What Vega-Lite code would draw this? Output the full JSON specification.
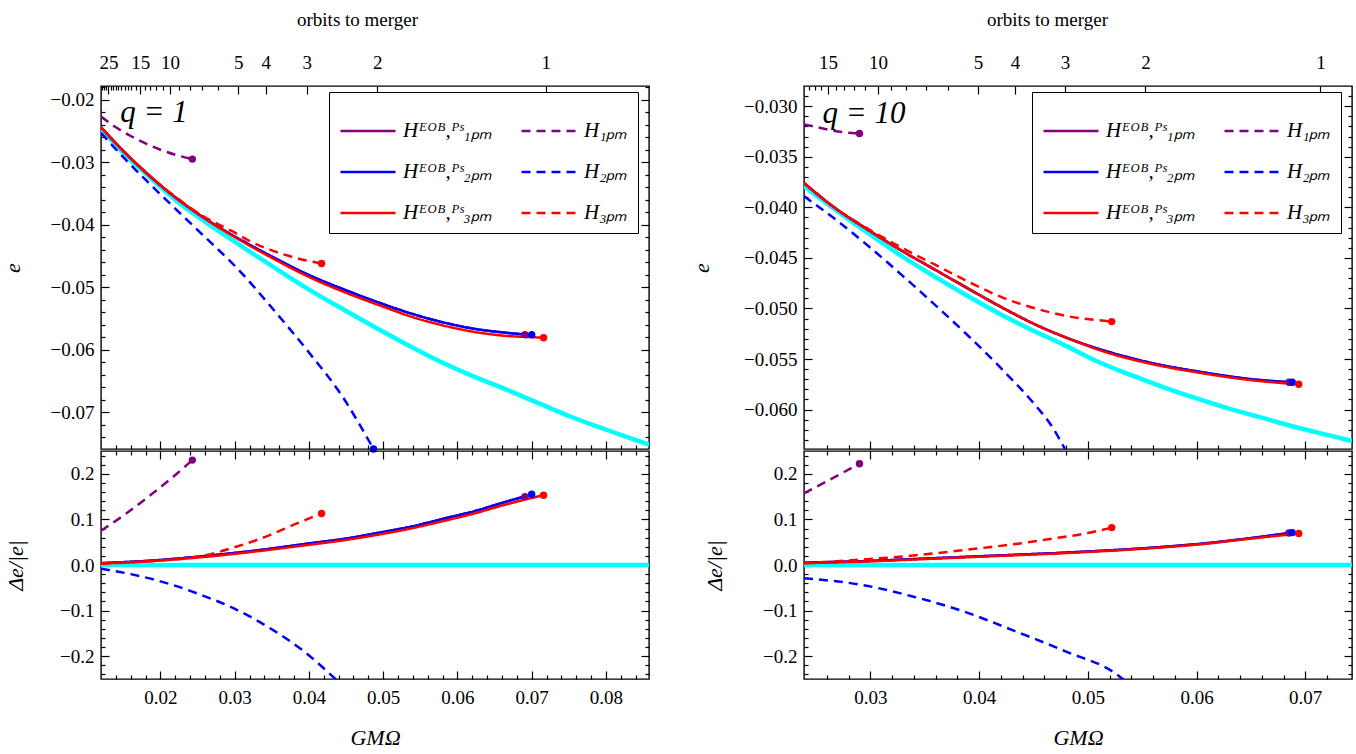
{
"$schema": "https://vega.github.io/schema/vega-lite/v6.json",
"background": "white",
"padding": {"left": 0, "top": 9, "right": 2, "bottom": 2},
"bounds": "flush",
"spacing": 703,
"config": {
  "font": "Liberation Serif",
  "view": {"stroke": "black", "strokeWidth": 1.4},
  "axis": {"domain": false, "grid": false, "labelFont": "Liberation Serif", "labelFontSize": 19, "labelColor": "black", "tickColor": "black", "tickWidth": 1.2, "titleFont": "Liberation Serif", "titleFontWeight": "normal", "titleFontSize": 22, "titleColor": "black", "labelOverlap": false, "labelFlush": false},
  "legend": {"orient": "none", "legendX": 228, "legendY": 6, "columns": 2, "direction": "horizontal", "symbolType": "stroke", "symbolSize": 3025, "symbolStrokeWidth": 2.5, "labelFont": "Liberation Serif", "labelFontSize": 21, "labelFontStyle": "italic", "labelColor": "black", "strokeColor": "black", "fillColor": "white", "padding": 10, "rowPadding": 2, "columnPadding": 24, "labelOffset": 6},
  "line": {"interpolate": "monotone"},
  "text": {"font": "Liberation Serif"}
},
"datasets": {
  "L_e": [
    {"s":"NR","x":0.012,"y":-0.0246},{"s":"NR","x":0.015,"y":-0.0285},{"s":"NR","x":0.018,"y":-0.0318},{"s":"NR","x":0.0222,"y":-0.0362},{"s":"NR","x":0.026,"y":-0.0395},{"s":"NR","x":0.0296,"y":-0.0424},{"s":"NR","x":0.035,"y":-0.0466},{"s":"NR","x":0.0399,"y":-0.0503},{"s":"NR","x":0.045,"y":-0.0538},{"s":"NR","x":0.0495,"y":-0.0568},{"s":"NR","x":0.054,"y":-0.0597},{"s":"NR","x":0.058,"y":-0.0621},{"s":"NR","x":0.062,"y":-0.0642},{"s":"NR","x":0.0666,"y":-0.0664},{"s":"NR","x":0.071,"y":-0.0686},{"s":"NR","x":0.0752,"y":-0.0707},{"s":"NR","x":0.08,"y":-0.0728},{"s":"NR","x":0.0858,"y":-0.0752},
    {"s":"E1","x":0.012,"y":-0.0244},{"s":"E1","x":0.015,"y":-0.0282},{"s":"E1","x":0.018,"y":-0.0316},{"s":"E1","x":0.0222,"y":-0.0358},{"s":"E1","x":0.026,"y":-0.039},{"s":"E1","x":0.0296,"y":-0.0416},{"s":"E1","x":0.035,"y":-0.0451},{"s":"E1","x":0.0399,"y":-0.048},{"s":"E1","x":0.045,"y":-0.0505},{"s":"E1","x":0.0495,"y":-0.0525},{"s":"E1","x":0.054,"y":-0.0543},{"s":"E1","x":0.058,"y":-0.0556},{"s":"E1","x":0.062,"y":-0.0566},{"s":"E1","x":0.0666,"y":-0.0573},{"s":"E1","x":0.0691,"y":-0.0576},
    {"s":"E2","x":0.012,"y":-0.0244},{"s":"E2","x":0.015,"y":-0.0282},{"s":"E2","x":0.018,"y":-0.0316},{"s":"E2","x":0.0222,"y":-0.0358},{"s":"E2","x":0.026,"y":-0.039},{"s":"E2","x":0.0296,"y":-0.0416},{"s":"E2","x":0.035,"y":-0.0451},{"s":"E2","x":0.0399,"y":-0.048},{"s":"E2","x":0.045,"y":-0.0505},{"s":"E2","x":0.0495,"y":-0.0525},{"s":"E2","x":0.054,"y":-0.0543},{"s":"E2","x":0.058,"y":-0.0556},{"s":"E2","x":0.062,"y":-0.0566},{"s":"E2","x":0.0666,"y":-0.0573},{"s":"E2","x":0.07,"y":-0.0576},
    {"s":"E3","x":0.012,"y":-0.0244},{"s":"E3","x":0.015,"y":-0.0282},{"s":"E3","x":0.018,"y":-0.0316},{"s":"E3","x":0.0222,"y":-0.0358},{"s":"E3","x":0.026,"y":-0.039},{"s":"E3","x":0.0296,"y":-0.0417},{"s":"E3","x":0.035,"y":-0.0453},{"s":"E3","x":0.0399,"y":-0.0483},{"s":"E3","x":0.045,"y":-0.0509},{"s":"E3","x":0.0495,"y":-0.0529},{"s":"E3","x":0.054,"y":-0.0548},{"s":"E3","x":0.058,"y":-0.0561},{"s":"E3","x":0.062,"y":-0.0571},{"s":"E3","x":0.0666,"y":-0.0578},{"s":"E3","x":0.07,"y":-0.058},{"s":"E3","x":0.0716,"y":-0.0581},
    {"s":"P1","x":0.012,"y":-0.0227},{"s":"P1","x":0.014,"y":-0.0244},{"s":"P1","x":0.016,"y":-0.0258},{"s":"P1","x":0.018,"y":-0.027},{"s":"P1","x":0.02,"y":-0.028},{"s":"P1","x":0.022,"y":-0.0288},{"s":"P1","x":0.0243,"y":-0.0295},
    {"s":"P2","x":0.012,"y":-0.0253},{"s":"P2","x":0.015,"y":-0.0292},{"s":"P2","x":0.018,"y":-0.0328},{"s":"P2","x":0.0211,"y":-0.0364},{"s":"P2","x":0.0262,"y":-0.0422},{"s":"P2","x":0.0302,"y":-0.0468},{"s":"P2","x":0.0348,"y":-0.053},{"s":"P2","x":0.0399,"y":-0.0603},{"s":"P2","x":0.0444,"y":-0.0673},{"s":"P2","x":0.0487,"y":-0.0759},
    {"s":"P3","x":0.012,"y":-0.0244},{"s":"P3","x":0.015,"y":-0.0282},{"s":"P3","x":0.018,"y":-0.0316},{"s":"P3","x":0.0222,"y":-0.0357},{"s":"P3","x":0.026,"y":-0.0388},{"s":"P3","x":0.0296,"y":-0.041},{"s":"P3","x":0.0325,"y":-0.0429},{"s":"P3","x":0.035,"y":-0.0441},{"s":"P3","x":0.037,"y":-0.0449},{"s":"P3","x":0.0395,"y":-0.0457},{"s":"P3","x":0.0417,"y":-0.0462}
  ],
  "L_d": [
    {"s":"NR","x":0.012,"y":0},{"s":"NR","x":0.0858,"y":0},
    {"s":"E1","x":0.012,"y":0.004},{"s":"E1","x":0.02,"y":0.011},{"s":"E1","x":0.0268,"y":0.021},{"s":"E1","x":0.033,"y":0.032},{"s":"E1","x":0.0399,"y":0.047},{"s":"E1","x":0.045,"y":0.058},{"s":"E1","x":0.0495,"y":0.071},{"s":"E1","x":0.054,"y":0.085},{"s":"E1","x":0.058,"y":0.101},{"s":"E1","x":0.0625,"y":0.119},{"s":"E1","x":0.0666,"y":0.139},{"s":"E1","x":0.0691,"y":0.15},
    {"s":"E2","x":0.012,"y":0.004},{"s":"E2","x":0.02,"y":0.011},{"s":"E2","x":0.0268,"y":0.021},{"s":"E2","x":0.033,"y":0.032},{"s":"E2","x":0.0399,"y":0.047},{"s":"E2","x":0.045,"y":0.058},{"s":"E2","x":0.0495,"y":0.071},{"s":"E2","x":0.054,"y":0.085},{"s":"E2","x":0.058,"y":0.101},{"s":"E2","x":0.0625,"y":0.119},{"s":"E2","x":0.0666,"y":0.139},{"s":"E2","x":0.07,"y":0.155},
    {"s":"E3","x":0.012,"y":0.003},{"s":"E3","x":0.02,"y":0.01},{"s":"E3","x":0.0268,"y":0.019},{"s":"E3","x":0.033,"y":0.03},{"s":"E3","x":0.0399,"y":0.044},{"s":"E3","x":0.045,"y":0.055},{"s":"E3","x":0.0495,"y":0.067},{"s":"E3","x":0.054,"y":0.081},{"s":"E3","x":0.058,"y":0.096},{"s":"E3","x":0.0625,"y":0.114},{"s":"E3","x":0.0666,"y":0.133},{"s":"E3","x":0.07,"y":0.147},{"s":"E3","x":0.0716,"y":0.153},
    {"s":"P1","x":0.012,"y":0.075},{"s":"P1","x":0.0154,"y":0.113},{"s":"P1","x":0.0188,"y":0.155},{"s":"P1","x":0.0222,"y":0.2},{"s":"P1","x":0.0243,"y":0.23},
    {"s":"P2","x":0.012,"y":-0.008},{"s":"P2","x":0.016,"y":-0.02},{"s":"P2","x":0.0211,"y":-0.041},{"s":"P2","x":0.0254,"y":-0.065},{"s":"P2","x":0.0296,"y":-0.093},{"s":"P2","x":0.0353,"y":-0.144},{"s":"P2","x":0.0393,"y":-0.189},{"s":"P2","x":0.0433,"y":-0.246},{"s":"P2","x":0.0437,"y":-0.252},
    {"s":"P3","x":0.012,"y":0.003},{"s":"P3","x":0.02,"y":0.01},{"s":"P3","x":0.0257,"y":0.02},{"s":"P3","x":0.0302,"y":0.04},{"s":"P3","x":0.0348,"y":0.066},{"s":"P3","x":0.0382,"y":0.09},{"s":"P3","x":0.0417,"y":0.113}
  ],
  "R_e": [
    {"s":"NR","x":0.0239,"y":-0.0379},{"s":"NR","x":0.027,"y":-0.0404},{"s":"NR","x":0.03,"y":-0.0427},{"s":"NR","x":0.033,"y":-0.0449},{"s":"NR","x":0.036,"y":-0.0469},{"s":"NR","x":0.039,"y":-0.0488},{"s":"NR","x":0.042,"y":-0.0506},{"s":"NR","x":0.045,"y":-0.0522},{"s":"NR","x":0.048,"y":-0.0537},{"s":"NR","x":0.051,"y":-0.0553},{"s":"NR","x":0.054,"y":-0.0566},{"s":"NR","x":0.057,"y":-0.0578},{"s":"NR","x":0.06,"y":-0.0589},{"s":"NR","x":0.063,"y":-0.0599},{"s":"NR","x":0.066,"y":-0.0608},{"s":"NR","x":0.069,"y":-0.0617},{"s":"NR","x":0.072,"y":-0.0625},{"s":"NR","x":0.0743,"y":-0.0631},
    {"s":"E1","x":0.0239,"y":-0.0376},{"s":"E1","x":0.0268,"y":-0.0401},{"s":"E1","x":0.0299,"y":-0.0423},{"s":"E1","x":0.0329,"y":-0.0443},{"s":"E1","x":0.036,"y":-0.0462},{"s":"E1","x":0.0391,"y":-0.0481},{"s":"E1","x":0.0421,"y":-0.0499},{"s":"E1","x":0.0452,"y":-0.0516},{"s":"E1","x":0.0483,"y":-0.053},{"s":"E1","x":0.0513,"y":-0.0541},{"s":"E1","x":0.0559,"y":-0.0554},{"s":"E1","x":0.0605,"y":-0.0563},{"s":"E1","x":0.0651,"y":-0.057},{"s":"E1","x":0.0685,"y":-0.0573},
    {"s":"E2","x":0.0239,"y":-0.0376},{"s":"E2","x":0.0268,"y":-0.0401},{"s":"E2","x":0.0299,"y":-0.0423},{"s":"E2","x":0.0329,"y":-0.0443},{"s":"E2","x":0.036,"y":-0.0462},{"s":"E2","x":0.0391,"y":-0.0481},{"s":"E2","x":0.0421,"y":-0.0499},{"s":"E2","x":0.0452,"y":-0.0516},{"s":"E2","x":0.0483,"y":-0.053},{"s":"E2","x":0.0513,"y":-0.0541},{"s":"E2","x":0.0559,"y":-0.0554},{"s":"E2","x":0.0605,"y":-0.0563},{"s":"E2","x":0.0651,"y":-0.057},{"s":"E2","x":0.0688,"y":-0.0573},
    {"s":"E3","x":0.0239,"y":-0.0376},{"s":"E3","x":0.0268,"y":-0.0401},{"s":"E3","x":0.0299,"y":-0.0423},{"s":"E3","x":0.0329,"y":-0.0443},{"s":"E3","x":0.036,"y":-0.0462},{"s":"E3","x":0.0391,"y":-0.0481},{"s":"E3","x":0.0421,"y":-0.0499},{"s":"E3","x":0.0452,"y":-0.0516},{"s":"E3","x":0.0483,"y":-0.053},{"s":"E3","x":0.0513,"y":-0.0542},{"s":"E3","x":0.0559,"y":-0.0555},{"s":"E3","x":0.0605,"y":-0.0564},{"s":"E3","x":0.0651,"y":-0.0571},{"s":"E3","x":0.0694,"y":-0.0575},
    {"s":"P1","x":0.0239,"y":-0.0318},{"s":"P1","x":0.0252,"y":-0.0321},{"s":"P1","x":0.0265,"y":-0.0324},{"s":"P1","x":0.0278,"y":-0.0326},{"s":"P1","x":0.029,"y":-0.0327},
    {"s":"P2","x":0.0239,"y":-0.0389},{"s":"P2","x":0.0268,"y":-0.0412},{"s":"P2","x":0.0299,"y":-0.0439},{"s":"P2","x":0.0329,"y":-0.0467},{"s":"P2","x":0.036,"y":-0.0497},{"s":"P2","x":0.0391,"y":-0.0528},{"s":"P2","x":0.0421,"y":-0.056},{"s":"P2","x":0.0452,"y":-0.0596},{"s":"P2","x":0.0466,"y":-0.0615},{"s":"P2","x":0.0479,"y":-0.0639},
    {"s":"P3","x":0.0239,"y":-0.0376},{"s":"P3","x":0.0268,"y":-0.0401},{"s":"P3","x":0.0299,"y":-0.0422},{"s":"P3","x":0.0329,"y":-0.044},{"s":"P3","x":0.036,"y":-0.0457},{"s":"P3","x":0.0391,"y":-0.0474},{"s":"P3","x":0.0421,"y":-0.0489},{"s":"P3","x":0.0452,"y":-0.05},{"s":"P3","x":0.0483,"y":-0.0508},{"s":"P3","x":0.0513,"y":-0.0512},{"s":"P3","x":0.0522,"y":-0.0513}
  ],
  "R_d": [
    {"s":"NR","x":0.0239,"y":0},{"s":"NR","x":0.0743,"y":0},
    {"s":"E1","x":0.0239,"y":0.005},{"s":"E1","x":0.03,"y":0.009},{"s":"E1","x":0.035,"y":0.014},{"s":"E1","x":0.0409,"y":0.02},{"s":"E1","x":0.0487,"y":0.028},{"s":"E1","x":0.0565,"y":0.039},{"s":"E1","x":0.061,"y":0.048},{"s":"E1","x":0.0643,"y":0.057},{"s":"E1","x":0.0685,"y":0.07},
    {"s":"E2","x":0.0239,"y":0.005},{"s":"E2","x":0.03,"y":0.009},{"s":"E2","x":0.035,"y":0.014},{"s":"E2","x":0.0409,"y":0.02},{"s":"E2","x":0.0487,"y":0.028},{"s":"E2","x":0.0565,"y":0.039},{"s":"E2","x":0.061,"y":0.048},{"s":"E2","x":0.0643,"y":0.057},{"s":"E2","x":0.0688,"y":0.071},
    {"s":"E3","x":0.0239,"y":0.004},{"s":"E3","x":0.03,"y":0.008},{"s":"E3","x":0.035,"y":0.013},{"s":"E3","x":0.0409,"y":0.019},{"s":"E3","x":0.0487,"y":0.027},{"s":"E3","x":0.0565,"y":0.038},{"s":"E3","x":0.061,"y":0.047},{"s":"E3","x":0.0643,"y":0.056},{"s":"E3","x":0.0694,"y":0.069},
    {"s":"P1","x":0.0239,"y":0.157},{"s":"P1","x":0.0265,"y":0.19},{"s":"P1","x":0.029,"y":0.222},
    {"s":"P2","x":0.0239,"y":-0.029},{"s":"P2","x":0.0293,"y":-0.044},{"s":"P2","x":0.0339,"y":-0.069},{"s":"P2","x":0.0386,"y":-0.102},{"s":"P2","x":0.0433,"y":-0.145},{"s":"P2","x":0.0479,"y":-0.189},{"s":"P2","x":0.053,"y":-0.246},{"s":"P2","x":0.0533,"y":-0.252},
    {"s":"P3","x":0.0239,"y":0.004},{"s":"P3","x":0.028,"y":0.01},{"s":"P3","x":0.0331,"y":0.019},{"s":"P3","x":0.038,"y":0.031},{"s":"P3","x":0.0409,"y":0.039},{"s":"P3","x":0.044,"y":0.048},{"s":"P3","x":0.0468,"y":0.058},{"s":"P3","x":0.05,"y":0.07},{"s":"P3","x":0.0522,"y":0.082}
  ]
},
"hconcat": [
 {
  "vconcat": [
   {
    "width": 548, "height": 363,
    "resolve": {"axis": {"x": "independent", "y": "independent"}},
    "layer": [
     {
      "data": {"name": "L_e"},
      "transform": [{"filter": "datum.s === 'NR'"}],
      "mark": {"type": "line", "color": "#00ffff", "strokeWidth": 4.5, "clip": true},
      "encoding": {
       "x": {"field": "x", "type": "quantitative", "scale": {"domain": [0.012, 0.0858], "nice": false, "zero": false}, "axis": {"orient": "bottom", "values": [0.02,0.03,0.04,0.05,0.06,0.07,0.08], "labels": false, "tickSize": -8, "title": null}},
       "y": {"field": "y", "type": "quantitative", "scale": {"domain": [-0.0759, -0.0178], "nice": false, "zero": false}, "axis": {"orient": "left", "values": [-0.07,-0.06,-0.05,-0.04,-0.03,-0.02], "format": ".2f", "tickSize": -8, "labelPadding": 15, "title": "e", "titleFontStyle": "italic", "titlePadding": 26}}
      }
     },
     {
      "data": {"name": "L_e"},
      "transform": [{"filter": "datum.s !== 'NR'"}],
      "mark": {"type": "line", "strokeWidth": 2.5, "clip": true},
      "encoding": {
       "x": {"field": "x", "type": "quantitative", "scale": {"domain": [0.012, 0.0858], "nice": false, "zero": false}, "axis": {"orient": "bottom", "values": [0.014,0.016,0.018,0.022,0.024,0.026,0.028,0.032,0.034,0.036,0.038,0.042,0.044,0.046,0.048,0.052,0.054,0.056,0.058,0.062,0.064,0.066,0.068,0.072,0.074,0.076,0.078,0.082,0.084], "labels": false, "tickSize": -4, "title": null}},
       "y": {"field": "y", "type": "quantitative", "scale": {"domain": [-0.0759, -0.0178], "nice": false, "zero": false}, "axis": {"orient": "left", "values": [-0.074,-0.072,-0.068,-0.066,-0.064,-0.062,-0.058,-0.056,-0.054,-0.052,-0.048,-0.046,-0.044,-0.042,-0.038,-0.036,-0.034,-0.032,-0.028,-0.026,-0.024,-0.022,-0.018], "labels": false, "tickSize": -4, "title": null}},
       "color": {"field": "s", "type": "nominal", "scale": {"domain": ["E1","P1","E2","P2","E3","P3"], "range": ["#800080","#800080","#0000ff","#0000ff","#ff0000","#ff0000"]}, "legend": {"title": null, "labelExpr": "datum.label=='E1'?'Hᴱᴼᴮ,ᴾˢ₁ₚₘ':datum.label=='P1'?'H₁ₚₘ':datum.label=='E2'?'Hᴱᴼᴮ,ᴾˢ₂ₚₘ':datum.label=='P2'?'H₂ₚₘ':datum.label=='E3'?'Hᴱᴼᴮ,ᴾˢ₃ₚₘ':'H₃ₚₘ'"}},
       "strokeDash": {"field": "s", "type": "nominal", "scale": {"domain": ["E1","P1","E2","P2","E3","P3"], "range": [[1,0],[9,6],[1,0],[9,6],[1,0],[9,6]]}, "legend": {"title": null, "labelExpr": "datum.label=='E1'?'Hᴱᴼᴮ,ᴾˢ₁ₚₘ':datum.label=='P1'?'H₁ₚₘ':datum.label=='E2'?'Hᴱᴼᴮ,ᴾˢ₂ₚₘ':datum.label=='P2'?'H₂ₚₘ':datum.label=='E3'?'Hᴱᴼᴮ,ᴾˢ₃ₚₘ':'H₃ₚₘ'"}}
      }
     },
     {
      "data": {"name": "L_e"},
      "transform": [{"joinaggregate": [{"op": "max", "field": "x", "as": "mx"}], "groupby": ["s"]}, {"filter": "datum.s !== 'NR' && datum.x === datum.mx"}],
      "mark": {"type": "circle", "size": 55, "opacity": 1},
      "encoding": {
       "x": {"field": "x", "type": "quantitative", "scale": {"domain": [0.012, 0.0858], "nice": false, "zero": false}, "axis": {"orient": "top", "values": [0.013,0.0173,0.0213,0.0305,0.0342,0.0397,0.0492,0.0719], "labelExpr": "datum.value==0.013?'25':datum.value==0.0173?'15':datum.value==0.0213?'10':datum.value==0.0305?'5':datum.value==0.0342?'4':datum.value==0.0397?'3':datum.value==0.0492?'2':'1'", "tickSize": -8, "labelPadding": 22, "title": "orbits to merger", "titleFontSize": 19, "titlePadding": 24, "titleX": 256, "titleAlign": "center"}},
       "y": {"field": "y", "type": "quantitative", "scale": {"domain": [-0.0759, -0.0178], "nice": false, "zero": false}, "axis": {"orient": "right", "values": [-0.07,-0.06,-0.05,-0.04,-0.03,-0.02], "labels": false, "tickSize": -8, "title": null}},
       "color": {"field": "s", "type": "nominal", "scale": {"domain": ["E1","P1","E2","P2","E3","P3"], "range": ["#800080","#800080","#0000ff","#0000ff","#ff0000","#ff0000"]}, "legend": null}
      }
     },
     {
      "data": {"name": "L_e"},
      "transform": [{"filter": "datum.s === 'NR'"}],
      "mark": {"type": "point", "opacity": 0},
      "encoding": {
       "x": {"field": "x", "type": "quantitative", "scale": {"domain": [0.012, 0.0858], "nice": false, "zero": false}, "axis": {"orient": "top", "values": [0.0122,0.0124,0.0127,0.0133,0.0136,0.014,0.0143,0.0147,0.0152,0.0156,0.0161,0.0167,0.0179,0.0186,0.0194,0.0203,0.0225,0.024,0.0256,0.0277], "labels": false, "tickSize": -4, "title": null}},
       "y": {"field": "y", "type": "quantitative", "scale": {"domain": [-0.0759, -0.0178], "nice": false, "zero": false}, "axis": {"orient": "right", "values": [-0.074,-0.072,-0.068,-0.066,-0.064,-0.062,-0.058,-0.056,-0.054,-0.052,-0.048,-0.046,-0.044,-0.042,-0.038,-0.036,-0.034,-0.032,-0.028,-0.026,-0.024,-0.022,-0.018], "labels": false, "tickSize": -4, "title": null}}
      }
     },
     {
      "data": {"values": [{}]},
      "mark": {"type": "text", "text": "q = 1", "fontSize": 31, "fontStyle": "italic", "align": "left", "baseline": "middle", "color": "black"},
      "encoding": {
       "x": {"datum": 0.0146, "type": "quantitative", "axis": null},
       "y": {"datum": -0.0221, "type": "quantitative", "axis": null}
      }
     }
    ]
   },
   {
    "width": 548, "height": 228,
    "resolve": {"axis": {"x": "independent", "y": "independent"}},
    "layer": [
     {
      "data": {"name": "L_d"},
      "transform": [{"filter": "datum.s === 'NR'"}],
      "mark": {"type": "line", "color": "#00ffff", "strokeWidth": 4.5, "clip": true},
      "encoding": {
       "x": {"field": "x", "type": "quantitative", "scale": {"domain": [0.012, 0.0858], "nice": false, "zero": false}, "axis": {"orient": "bottom", "values": [0.02,0.03,0.04,0.05,0.06,0.07,0.08], "format": ".2f", "tickSize": -8, "labelPadding": 17, "title": "GMΩ", "titleFontStyle": "italic", "titlePadding": 20}},
       "y": {"field": "y", "type": "quantitative", "scale": {"domain": [-0.25, 0.25], "nice": false, "zero": false}, "axis": {"orient": "left", "values": [-0.2,-0.1,0,0.1,0.2], "format": ".1f", "tickSize": -8, "labelPadding": 15, "title": "Δe/|e|", "titleFontStyle": "italic", "titlePadding": 32}}
      }
     },
     {
      "data": {"name": "L_d"},
      "transform": [{"filter": "datum.s !== 'NR'"}],
      "mark": {"type": "line", "strokeWidth": 2.5, "clip": true},
      "encoding": {
       "x": {"field": "x", "type": "quantitative", "scale": {"domain": [0.012, 0.0858], "nice": false, "zero": false}, "axis": {"orient": "bottom", "values": [0.014,0.016,0.018,0.022,0.024,0.026,0.028,0.032,0.034,0.036,0.038,0.042,0.044,0.046,0.048,0.052,0.054,0.056,0.058,0.062,0.064,0.066,0.068,0.072,0.074,0.076,0.078,0.082,0.084], "labels": false, "tickSize": -4, "title": null}},
       "y": {"field": "y", "type": "quantitative", "scale": {"domain": [-0.25, 0.25], "nice": false, "zero": false}, "axis": {"orient": "left", "values": [-0.24,-0.22,-0.18,-0.16,-0.14,-0.12,-0.08,-0.06,-0.04,-0.02,0.02,0.04,0.06,0.08,0.12,0.14,0.16,0.18,0.22,0.24], "labels": false, "tickSize": -4, "title": null}},
       "color": {"field": "s", "type": "nominal", "scale": {"domain": ["E1","P1","E2","P2","E3","P3"], "range": ["#800080","#800080","#0000ff","#0000ff","#ff0000","#ff0000"]}, "legend": null},
       "strokeDash": {"field": "s", "type": "nominal", "scale": {"domain": ["E1","P1","E2","P2","E3","P3"], "range": [[1,0],[9,6],[1,0],[9,6],[1,0],[9,6]]}, "legend": null}
      }
     },
     {
      "data": {"name": "L_d"},
      "transform": [{"joinaggregate": [{"op": "max", "field": "x", "as": "mx"}], "groupby": ["s"]}, {"filter": "datum.s !== 'NR' && datum.x === datum.mx && datum.y > -0.25"}],
      "mark": {"type": "circle", "size": 55, "opacity": 1},
      "encoding": {
       "x": {"field": "x", "type": "quantitative", "scale": {"domain": [0.012, 0.0858], "nice": false, "zero": false}, "axis": {"orient": "top", "values": [0.02,0.03,0.04,0.05,0.06,0.07,0.08], "labels": false, "tickSize": -8, "title": null}},
       "y": {"field": "y", "type": "quantitative", "scale": {"domain": [-0.25, 0.25], "nice": false, "zero": false}, "axis": {"orient": "right", "values": [-0.2,-0.1,0,0.1,0.2], "labels": false, "tickSize": -8, "title": null}},
       "color": {"field": "s", "type": "nominal", "scale": {"domain": ["E1","P1","E2","P2","E3","P3"], "range": ["#800080","#800080","#0000ff","#0000ff","#ff0000","#ff0000"]}, "legend": null}
      }
     },
     {
      "data": {"name": "L_d"},
      "transform": [{"filter": "datum.s === 'NR'"}],
      "mark": {"type": "point", "opacity": 0},
      "encoding": {
       "x": {"field": "x", "type": "quantitative", "scale": {"domain": [0.012, 0.0858], "nice": false, "zero": false}, "axis": {"orient": "top", "values": [0.014,0.016,0.018,0.022,0.024,0.026,0.028,0.032,0.034,0.036,0.038,0.042,0.044,0.046,0.048,0.052,0.054,0.056,0.058,0.062,0.064,0.066,0.068,0.072,0.074,0.076,0.078,0.082,0.084], "labels": false, "tickSize": -4, "title": null}},
       "y": {"field": "y", "type": "quantitative", "scale": {"domain": [-0.25, 0.25], "nice": false, "zero": false}, "axis": {"orient": "right", "values": [-0.24,-0.22,-0.18,-0.16,-0.14,-0.12,-0.08,-0.06,-0.04,-0.02,0.02,0.04,0.06,0.08,0.12,0.14,0.16,0.18,0.22,0.24], "labels": false, "tickSize": -4, "title": null}}
      }
     }
    ]
   }
  ],
  "spacing": 2,
  "bounds": "flush",
  "resolve": {"legend": {"color": "independent", "strokeDash": "independent"}}
 },
 {
  "vconcat": [
   {
    "width": 548, "height": 363,
    "resolve": {"axis": {"x": "independent", "y": "independent"}},
    "layer": [
     {
      "data": {"name": "R_e"},
      "transform": [{"filter": "datum.s === 'NR'"}],
      "mark": {"type": "line", "color": "#00ffff", "strokeWidth": 4.5, "clip": true},
      "encoding": {
       "x": {"field": "x", "type": "quantitative", "scale": {"domain": [0.0239, 0.0743], "nice": false, "zero": false}, "axis": {"orient": "bottom", "values": [0.03,0.04,0.05,0.06,0.07], "labels": false, "tickSize": -8, "title": null}},
       "y": {"field": "y", "type": "quantitative", "scale": {"domain": [-0.0639, -0.028], "nice": false, "zero": false}, "axis": {"orient": "left", "values": [-0.06,-0.055,-0.05,-0.045,-0.04,-0.035,-0.03], "format": ".3f", "tickSize": -8, "labelPadding": 15, "title": "e", "titleFontStyle": "italic", "titlePadding": 30}}
      }
     },
     {
      "data": {"name": "R_e"},
      "transform": [{"filter": "datum.s !== 'NR'"}],
      "mark": {"type": "line", "strokeWidth": 2.5, "clip": true},
      "encoding": {
       "x": {"field": "x", "type": "quantitative", "scale": {"domain": [0.0239, 0.0743], "nice": false, "zero": false}, "axis": {"orient": "bottom", "values": [0.026,0.028,0.032,0.034,0.036,0.038,0.042,0.044,0.046,0.048,0.052,0.054,0.056,0.058,0.062,0.064,0.066,0.068,0.072], "labels": false, "tickSize": -4, "title": null}},
       "y": {"field": "y", "type": "quantitative", "scale": {"domain": [-0.0639, -0.028], "nice": false, "zero": false}, "axis": {"orient": "left", "values": [-0.063,-0.062,-0.061,-0.059,-0.058,-0.057,-0.056,-0.054,-0.053,-0.052,-0.051,-0.049,-0.048,-0.047,-0.046,-0.044,-0.043,-0.042,-0.041,-0.039,-0.038,-0.037,-0.036,-0.034,-0.033,-0.032,-0.031,-0.029], "labels": false, "tickSize": -4, "title": null}},
       "color": {"field": "s", "type": "nominal", "scale": {"domain": ["E1","P1","E2","P2","E3","P3"], "range": ["#800080","#800080","#0000ff","#0000ff","#ff0000","#ff0000"]}, "legend": {"title": null, "labelExpr": "datum.label=='E1'?'Hᴱᴼᴮ,ᴾˢ₁ₚₘ':datum.label=='P1'?'H₁ₚₘ':datum.label=='E2'?'Hᴱᴼᴮ,ᴾˢ₂ₚₘ':datum.label=='P2'?'H₂ₚₘ':datum.label=='E3'?'Hᴱᴼᴮ,ᴾˢ₃ₚₘ':'H₃ₚₘ'"}},
       "strokeDash": {"field": "s", "type": "nominal", "scale": {"domain": ["E1","P1","E2","P2","E3","P3"], "range": [[1,0],[9,6],[1,0],[9,6],[1,0],[9,6]]}, "legend": {"title": null, "labelExpr": "datum.label=='E1'?'Hᴱᴼᴮ,ᴾˢ₁ₚₘ':datum.label=='P1'?'H₁ₚₘ':datum.label=='E2'?'Hᴱᴼᴮ,ᴾˢ₂ₚₘ':datum.label=='P2'?'H₂ₚₘ':datum.label=='E3'?'Hᴱᴼᴮ,ᴾˢ₃ₚₘ':'H₃ₚₘ'"}}
      }
     },
     {
      "data": {"name": "R_e"},
      "transform": [{"joinaggregate": [{"op": "max", "field": "x", "as": "mx"}], "groupby": ["s"]}, {"filter": "datum.s !== 'NR' && datum.x === datum.mx && datum.y > -0.0639"}],
      "mark": {"type": "circle", "size": 55, "opacity": 1},
      "encoding": {
       "x": {"field": "x", "type": "quantitative", "scale": {"domain": [0.0239, 0.0743], "nice": false, "zero": false}, "axis": {"orient": "top", "values": [0.0261,0.0307,0.0399,0.0433,0.0479,0.0553,0.0714], "labelExpr": "datum.value==0.0261?'15':datum.value==0.0307?'10':datum.value==0.0399?'5':datum.value==0.0433?'4':datum.value==0.0479?'3':datum.value==0.0553?'2':'1'", "tickSize": -8, "labelPadding": 22, "title": "orbits to merger", "titleFontSize": 19, "titlePadding": 24, "titleX": 243, "titleAlign": "center"}},
       "y": {"field": "y", "type": "quantitative", "scale": {"domain": [-0.0639, -0.028], "nice": false, "zero": false}, "axis": {"orient": "right", "values": [-0.06,-0.055,-0.05,-0.045,-0.04,-0.035,-0.03], "labels": false, "tickSize": -8, "title": null}},
       "color": {"field": "s", "type": "nominal", "scale": {"domain": ["E1","P1","E2","P2","E3","P3"], "range": ["#800080","#800080","#0000ff","#0000ff","#ff0000","#ff0000"]}, "legend": null}
      }
     },
     {
      "data": {"name": "R_e"},
      "transform": [{"filter": "datum.s === 'NR'"}],
      "mark": {"type": "point", "opacity": 0},
      "encoding": {
       "x": {"field": "x", "type": "quantitative", "scale": {"domain": [0.0239, 0.0743], "nice": false, "zero": false}, "axis": {"orient": "top", "values": [0.0244,0.0249,0.0255,0.0268,0.0276,0.0285,0.0295,0.0319,0.0333,0.0351,0.0371], "labels": false, "tickSize": -4, "title": null}},
       "y": {"field": "y", "type": "quantitative", "scale": {"domain": [-0.0639, -0.028], "nice": false, "zero": false}, "axis": {"orient": "right", "values": [-0.063,-0.062,-0.061,-0.059,-0.058,-0.057,-0.056,-0.054,-0.053,-0.052,-0.051,-0.049,-0.048,-0.047,-0.046,-0.044,-0.043,-0.042,-0.041,-0.039,-0.038,-0.037,-0.036,-0.034,-0.033,-0.032,-0.031,-0.029], "labels": false, "tickSize": -4, "title": null}}
      }
     },
     {
      "data": {"values": [{}]},
      "mark": {"type": "text", "text": "q = 10", "fontSize": 31, "fontStyle": "italic", "align": "left", "baseline": "middle", "color": "black"},
      "encoding": {
       "x": {"datum": 0.0256, "type": "quantitative", "axis": null},
       "y": {"datum": -0.0308, "type": "quantitative", "axis": null}
      }
     }
    ]
   },
   {
    "width": 548, "height": 228,
    "resolve": {"axis": {"x": "independent", "y": "independent"}},
    "layer": [
     {
      "data": {"name": "R_d"},
      "transform": [{"filter": "datum.s === 'NR'"}],
      "mark": {"type": "line", "color": "#00ffff", "strokeWidth": 4.5, "clip": true},
      "encoding": {
       "x": {"field": "x", "type": "quantitative", "scale": {"domain": [0.0239, 0.0743], "nice": false, "zero": false}, "axis": {"orient": "bottom", "values": [0.03,0.04,0.05,0.06,0.07], "format": ".2f", "tickSize": -8, "labelPadding": 17, "title": "GMΩ", "titleFontStyle": "italic", "titlePadding": 20}},
       "y": {"field": "y", "type": "quantitative", "scale": {"domain": [-0.25, 0.25], "nice": false, "zero": false}, "axis": {"orient": "left", "values": [-0.2,-0.1,0,0.1,0.2], "format": ".1f", "tickSize": -8, "labelPadding": 15, "title": "Δe/|e|", "titleFontStyle": "italic", "titlePadding": 36}}
      }
     },
     {
      "data": {"name": "R_d"},
      "transform": [{"filter": "datum.s !== 'NR'"}],
      "mark": {"type": "line", "strokeWidth": 2.5, "clip": true},
      "encoding": {
       "x": {"field": "x", "type": "quantitative", "scale": {"domain": [0.0239, 0.0743], "nice": false, "zero": false}, "axis": {"orient": "bottom", "values": [0.026,0.028,0.032,0.034,0.036,0.038,0.042,0.044,0.046,0.048,0.052,0.054,0.056,0.058,0.062,0.064,0.066,0.068,0.072], "labels": false, "tickSize": -4, "title": null}},
       "y": {"field": "y", "type": "quantitative", "scale": {"domain": [-0.25, 0.25], "nice": false, "zero": false}, "axis": {"orient": "left", "values": [-0.24,-0.22,-0.18,-0.16,-0.14,-0.12,-0.08,-0.06,-0.04,-0.02,0.02,0.04,0.06,0.08,0.12,0.14,0.16,0.18,0.22,0.24], "labels": false, "tickSize": -4, "title": null}},
       "color": {"field": "s", "type": "nominal", "scale": {"domain": ["E1","P1","E2","P2","E3","P3"], "range": ["#800080","#800080","#0000ff","#0000ff","#ff0000","#ff0000"]}, "legend": null},
       "strokeDash": {"field": "s", "type": "nominal", "scale": {"domain": ["E1","P1","E2","P2","E3","P3"], "range": [[1,0],[9,6],[1,0],[9,6],[1,0],[9,6]]}, "legend": null}
      }
     },
     {
      "data": {"name": "R_d"},
      "transform": [{"joinaggregate": [{"op": "max", "field": "x", "as": "mx"}], "groupby": ["s"]}, {"filter": "datum.s !== 'NR' && datum.x === datum.mx && datum.y > -0.25"}],
      "mark": {"type": "circle", "size": 55, "opacity": 1},
      "encoding": {
       "x": {"field": "x", "type": "quantitative", "scale": {"domain": [0.0239, 0.0743], "nice": false, "zero": false}, "axis": {"orient": "top", "values": [0.03,0.04,0.05,0.06,0.07], "labels": false, "tickSize": -8, "title": null}},
       "y": {"field": "y", "type": "quantitative", "scale": {"domain": [-0.25, 0.25], "nice": false, "zero": false}, "axis": {"orient": "right", "values": [-0.2,-0.1,0,0.1,0.2], "labels": false, "tickSize": -8, "title": null}},
       "color": {"field": "s", "type": "nominal", "scale": {"domain": ["E1","P1","E2","P2","E3","P3"], "range": ["#800080","#800080","#0000ff","#0000ff","#ff0000","#ff0000"]}, "legend": null}
      }
     },
     {
      "data": {"name": "R_d"},
      "transform": [{"filter": "datum.s === 'NR'"}],
      "mark": {"type": "point", "opacity": 0},
      "encoding": {
       "x": {"field": "x", "type": "quantitative", "scale": {"domain": [0.0239, 0.0743], "nice": false, "zero": false}, "axis": {"orient": "top", "values": [0.026,0.028,0.032,0.034,0.036,0.038,0.042,0.044,0.046,0.048,0.052,0.054,0.056,0.058,0.062,0.064,0.066,0.068,0.072], "labels": false, "tickSize": -4, "title": null}},
       "y": {"field": "y", "type": "quantitative", "scale": {"domain": [-0.25, 0.25], "nice": false, "zero": false}, "axis": {"orient": "right", "values": [-0.24,-0.22,-0.18,-0.16,-0.14,-0.12,-0.08,-0.06,-0.04,-0.02,0.02,0.04,0.06,0.08,0.12,0.14,0.16,0.18,0.22,0.24], "labels": false, "tickSize": -4, "title": null}}
      }
     }
    ]
   }
  ],
  "spacing": 2,
  "bounds": "flush",
  "resolve": {"legend": {"color": "independent", "strokeDash": "independent"}}
 }
]
}
